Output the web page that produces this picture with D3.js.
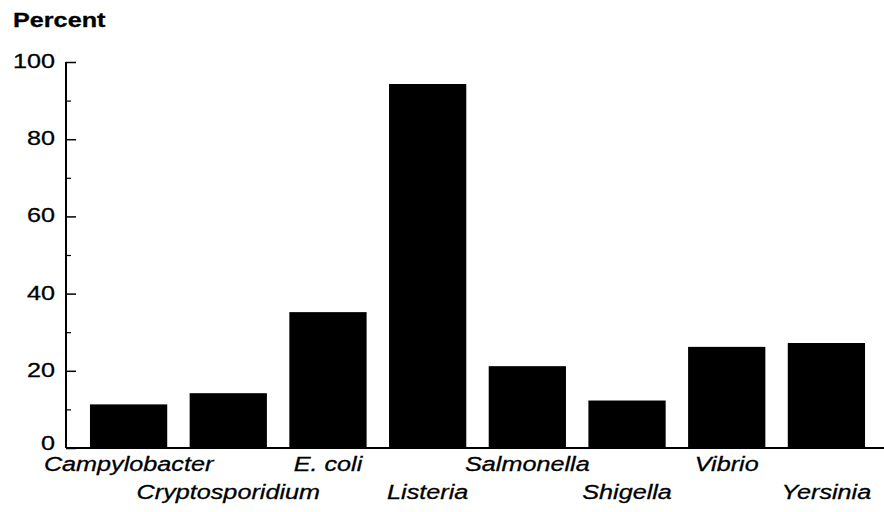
<!DOCTYPE html>
<html><head><meta charset="utf-8">
<script src="https://cdn.jsdelivr.net/npm/d3@7"></script>
<style>body{margin:0;background:#fff}svg{display:block}text{font-family:"Liberation Sans",Arial,sans-serif;fill:#000;stroke:#000;stroke-width:0.3px}</style>
</head><body>
<svg id="c" width="884" height="512"></svg>
<script>
const categories = ["Campylobacter","Cryptosporidium","E. coli","Listeria","Salmonella","Shigella","Vibrio","Yersinia"];
const values = [11.3, 14.2, 35.2, 94.3, 21.2, 12.3, 26.2, 27.2];
const yTicks = [0, 20, 40, 60, 80, 100];
const yMinorTicks = [10, 30, 50, 70, 90];

const svg = d3.select("#c");
const x0 = 66, yTop = 62, yBase = 448;
const SX = 1.2, FS = "21px";
const x = d3.scaleBand().domain(categories).range([79, 876]).paddingInner(0.225).paddingOuter(0.11);
const y = d3.scaleLinear().domain([0, 100]).range([yBase, yTop]);

svg.selectAll("rect.bar").data(values).join("rect")
  .attr("x", (d, i) => x(categories[i])).attr("width", x.bandwidth())
  .attr("y", d => y(d)).attr("height", d => y(0) - y(d)).attr("fill", "#000");

// y axis
const ax = svg.append("g").attr("transform", `translate(${x0},0)`)
  .call(d3.axisRight(y).tickValues(yTicks).tickSize(10).tickFormat(""));
ax.select(".domain").attr("stroke", "#000").attr("stroke-width", 2).attr("d", `M0,${yTop}V${yBase}`);
ax.selectAll(".tick line").attr("stroke", "#000").attr("stroke-width", 1.5);
svg.append("g").attr("transform", `translate(${x0},0)`)
  .call(d3.axisRight(y).tickValues(yMinorTicks).tickSize(5).tickFormat(""))
  .call(g => { g.select(".domain").remove(); g.selectAll("line").attr("stroke", "#000").attr("stroke-width", 1.2); });

svg.append("g").selectAll("text").data(yTicks).join("text")
  .attr("transform", d => `translate(55,${y(d) + (d === 0 ? 1.5 : 6)}) scale(${SX},1)`)
  .attr("text-anchor", "end").style("font-size", FS).text(d => d);

// baseline
svg.append("line").attr("x1", x0).attr("x2", 884).attr("y1", yBase).attr("y2", yBase)
  .attr("stroke", "#000").attr("stroke-width", 2);

// category labels, staggered
svg.append("g").selectAll("text").data(categories).join("text")
  .attr("transform", (d, i) => `translate(${x(d) + x.bandwidth() / 2},${i % 2 === 0 ? 471 : 499}) scale(${SX},1)`)
  .attr("text-anchor", "middle").style("font-size", FS).style("font-style", "italic")
  .text(d => d);

svg.append("text").attr("transform", `translate(13,27) scale(${SX},1)`)
  .style("font-size", FS).style("font-weight", "bold").text("Percent");
</script>
</body></html>
